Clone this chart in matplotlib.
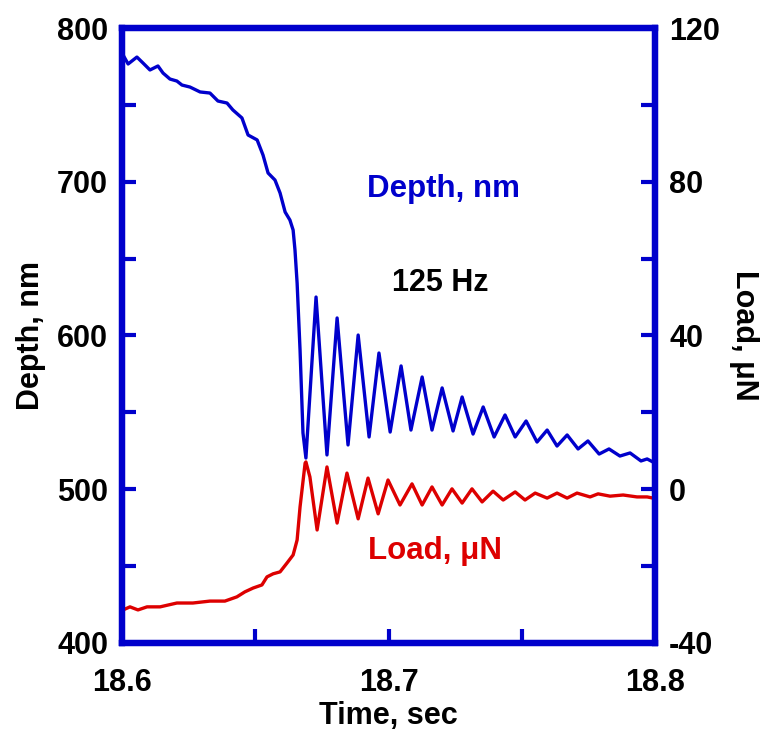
import matplotlib
matplotlib.use('Agg')
import matplotlib.pyplot as plt
from matplotlib.ticker import MultipleLocator, FormatStrFormatter

# depth trace (blue)
depth_time = [18.6000, 18.6023, 18.6056, 18.6079, 18.6105, 18.6135, 18.6154, 18.6180,
              18.6206, 18.6225, 18.6255, 18.6293, 18.6330, 18.6360, 18.6394, 18.6416,
              18.6450, 18.6473, 18.6507, 18.6529, 18.6548, 18.6574, 18.6593, 18.6612,
              18.6630, 18.6642, 18.6649, 18.6657, 18.6668, 18.6679, 18.6690, 18.6728,
              18.6769, 18.6807, 18.6848, 18.6886, 18.6927, 18.6964, 18.7006, 18.7047,
              18.7084, 18.7126, 18.7163, 18.7201, 18.7242, 18.7276, 18.7317, 18.7355,
              18.7396, 18.7437, 18.7475, 18.7516, 18.7557, 18.7595, 18.7632, 18.7670,
              18.7711, 18.7748, 18.7790, 18.7827, 18.7868, 18.7906, 18.7947, 18.7970,
              18.7992]
depth_nm = [783.7, 776.6, 781.1, 777.2, 772.7, 775.3, 770.7, 766.8,
            765.5, 762.9, 761.6, 758.4, 757.7, 752.5, 751.2, 746.7,
            741.5, 730.4, 727.2, 717.4, 705.7, 701.1, 692.7, 680.3,
            675.1, 668.6, 655.6, 634.1, 590.5, 536.6, 520.3, 625.0,
            522.3, 611.4, 528.8, 600.3, 534.0, 588.6, 537.2, 580.2,
            538.5, 573.0, 538.5, 565.9, 537.9, 560.0, 535.9, 553.5,
            534.0, 548.3, 534.0, 544.4, 530.7, 538.5, 528.1, 535.3,
            526.2, 531.4, 522.9, 526.2, 521.6, 523.6, 518.4, 519.7,
            517.7]

# load trace (red)
load_time = [18.6004, 18.6030, 18.6060, 18.6094, 18.6143, 18.6206, 18.6266, 18.6330,
             18.6386, 18.6431, 18.6461, 18.6492, 18.6525, 18.6544, 18.6567, 18.6593,
             18.6619, 18.6642, 18.6649, 18.6657, 18.6668, 18.6687, 18.6690, 18.6705,
             18.6732, 18.6769, 18.6807, 18.6844, 18.6886, 18.6923, 18.6961, 18.6998,
             18.7043, 18.7088, 18.7126, 18.7163, 18.7201, 18.7238, 18.7276, 18.7313,
             18.7351, 18.7392, 18.7430, 18.7475, 18.7512, 18.7550, 18.7595, 18.7632,
             18.7670, 18.7707, 18.7756, 18.7786, 18.7831, 18.7880, 18.7932, 18.7970,
             18.7992]
load_uN = [-31.4, -30.6, -31.4, -30.6, -30.6, -29.6, -29.6, -29.1,
           -29.1, -28.0, -26.7, -25.7, -24.9, -22.8, -22.0, -21.5,
           -19.2, -17.1, -15.3, -13.2, -4.6, 6.8, 7.1, 3.2,
           -10.6, 5.8, -8.8, 4.2, -7.7, 2.9, -6.4, 2.4,
           -4.1, 1.4, -4.1, 0.6, -4.1, 0.1, -3.6, 0.1,
           -3.3, -0.5, -2.8, -0.7, -2.8, -1.0, -2.3, -1.0,
           -2.3, -1.0, -2.0, -1.2, -1.8, -1.5, -2.0, -2.0,
           -2.3]

frame = '#0000cc'
blue = '#0000cc'
red = '#dd0000'

plt.rcParams['font.family'] = ['Liberation Sans', 'DejaVu Sans']
plt.rcParams['font.weight'] = 'bold'
plt.rcParams['axes.unicode_minus'] = False

fig = plt.figure(figsize=(7.6, 7.33), dpi=100)
ax = fig.add_axes([0.1605, 0.1228, 0.7015, 0.839])
ax2 = ax.twinx()

ax.plot(depth_time, depth_nm, color=blue, lw=2.4, solid_joinstyle='round')
ax2.plot(load_time, load_uN, color=red, lw=2.4, solid_joinstyle='round')

ax.set_xlim(18.6, 18.8)
ax.set_ylim(400, 800)
ax2.set_ylim(-40, 120)

ax.xaxis.set_major_locator(MultipleLocator(0.1))
ax.xaxis.set_minor_locator(MultipleLocator(0.05))
ax.xaxis.set_major_formatter(FormatStrFormatter('%.1f'))
ax.yaxis.set_major_locator(MultipleLocator(100))
ax.yaxis.set_minor_locator(MultipleLocator(50))
ax2.yaxis.set_major_locator(MultipleLocator(40))
ax2.yaxis.set_minor_locator(MultipleLocator(20))

for a in (ax, ax2):
    for s in a.spines.values():
        s.set_color(frame)
        s.set_linewidth(4.5)
    a.tick_params(which='both', direction='in', color=frame, length=10, width=3,
                  labelsize=22, pad=10)

ax.tick_params(axis='x', pad=18)

ax.set_xlabel('Time, sec', fontsize=22, fontweight='bold', labelpad=2)
ax.set_ylabel('Depth, nm', fontsize=22, fontweight='bold', labelpad=8)
ax2.set_ylabel('Load, \u03bcN', fontsize=22, fontweight='bold', rotation=-90, labelpad=28)

ax.text(18.7205, 695, 'Depth, nm', color=blue, fontsize=22.5, fontweight='bold', ha='center', va='center')
ax.text(18.7195, 634, '125 Hz', color='black', fontsize=22, fontweight='bold', ha='center', va='center')
ax.text(18.7175, 460, 'Load, \u03bcN', color=red, fontsize=22.5, fontweight='bold', ha='center', va='center')

fig.savefig('out.png', dpi=100)
